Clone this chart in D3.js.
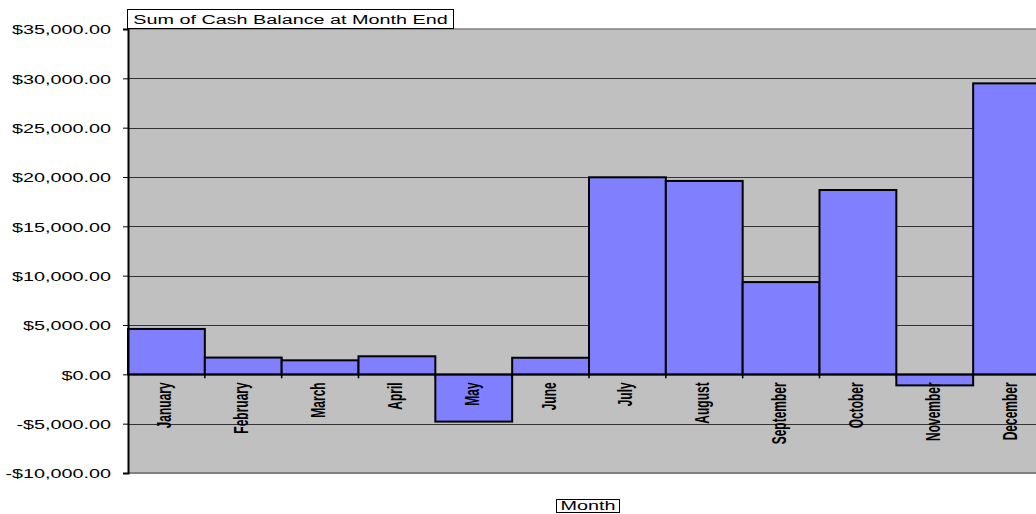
<!DOCTYPE html>
<html>
<head>
<meta charset="utf-8">
<script src="https://cdn.jsdelivr.net/npm/d3@7"></script>
<style>
  body { margin: 0; background: #fff; }
  svg { display: block; font-family: "Liberation Sans", Arial, sans-serif; }
</style>
</head>
<body>
<svg id="chart" width="1036" height="514"></svg>
<script>
var months = ["January", "February", "March", "April", "May", "June",
    "July", "August", "September", "October", "November", "December"];
var balances = [4600, 1700, 1420, 1830, -4790, 1680, 19970, 19600, 9350, 18680, -1120, 29490];
var yTicks = [-10000, -5000, 0, 5000, 10000, 15000, 20000, 25000, 30000, 35000];

// the old sheet stretches its text sideways
const STRETCH = 1.65;

var svg = d3.select("#chart");
var plotLeft = 128, plotTop = 29, plotBottom = 473, plotRight = 1050;

var x = d3.scaleBand().domain(months).range([plotLeft, plotRight]).padding(0);
var y = d3.scaleLinear().domain([-10000, 35000]).range([plotBottom, plotTop]);

var fmt = function (v) {
    var s = "$" + d3.format(",.2f")(Math.abs(v));
    return v < 0 ? "-" + s : s;
};

// plot background
svg.append("rect")
    .attr("x", plotLeft).attr("y", plotTop)
    .attr("width", plotRight - plotLeft).attr("height", plotBottom - plotTop)
    .attr("fill", "#c0c0c0");

// gridlines
svg.append("g").selectAll("line")
    .data(yTicks.filter(function (d) { return d > -10000 && d < 35000; }))
    .enter().append("line")
    .attr("x1", plotLeft).attr("x2", plotRight)
    .attr("y1", function (d) { return Math.round(y(d)) + 0.5; })
    .attr("y2", function (d) { return Math.round(y(d)) + 0.5; })
    .attr("stroke", "#333").attr("stroke-width", 1);

// top and bottom border
svg.append("line").attr("x1", plotLeft).attr("x2", plotRight)
    .attr("y1", plotTop).attr("y2", plotTop).attr("stroke", "#808080").attr("stroke-width", 1.5);
svg.append("line").attr("x1", plotLeft).attr("x2", plotRight)
    .attr("y1", plotBottom).attr("y2", plotBottom).attr("stroke", "#808080").attr("stroke-width", 2);

// bars
svg.append("g").selectAll("rect")
    .data(balances)
    .enter().append("rect")
    .attr("x", function (d, i) { return x(months[i]); })
    .attr("width", x.bandwidth())
    .attr("y", function (d) { return y(Math.max(0, d)); })
    .attr("height", function (d) { return Math.abs(y(d) - y(0)); })
    .attr("fill", "#8080ff")
    .attr("stroke", "#000").attr("stroke-width", 2);

// category axis on zero line
var xAxis = svg.append("g")
    .attr("transform", "translate(0," + y(0) + ")")
    .call(d3.axisBottom(x).tickSize(0).tickFormat(""));
xAxis.select(".domain").attr("stroke", "#000").attr("stroke-width", 1.5);
xAxis.selectAll(".bnd")
    .data(months.slice(1))
    .enter().append("line")
    .attr("class", "bnd")
    .attr("x1", function (d) { return x(d); })
    .attr("x2", function (d) { return x(d); })
    .attr("y1", 0).attr("y2", 4)
    .attr("stroke", "#000").attr("stroke-width", 1.5);

// month labels
svg.append("g").selectAll("text")
    .data(months)
    .enter().append("text")
    .attr("transform", function (d) {
        return "translate(" + (x(d) + x.bandwidth() / 2 - 2) + "," + (y(0) + 8) + ") rotate(-90) scale(1," + STRETCH + ")";
    })
    .attr("text-anchor", "end")
    .attr("dy", "0.35em")
    .style("font-weight", "bold")
    .style("font-size", "12px")
    .attr("fill", "#000")
    .text(function (d) { return d; });

// value axis
var yAxis = svg.append("g")
    .attr("transform", "translate(" + plotLeft + ",0)")
    .call(d3.axisLeft(y).tickValues(yTicks).tickSize(5).tickFormat(fmt));
yAxis.select(".domain").attr("stroke", "#000").attr("stroke-width", 2);
yAxis.selectAll(".tick line").attr("stroke", "#000");
yAxis.selectAll(".tick text")
    .attr("x", 0)
    .attr("transform", "translate(-17,1) scale(" + STRETCH + ",1)")
    .style("font-family", "'Liberation Sans', Arial, sans-serif")
    .style("font-size", "12px")
    .attr("fill", "#000");

// field buttons
function fieldBox(label, bx, by, w, h, base) {
    var g = svg.append("g");
    g.append("rect").attr("x", bx + 0.5).attr("y", by + 0.5)
        .attr("width", w).attr("height", h)
        .attr("fill", "#fff").attr("stroke", "#000");
    g.append("text")
        .attr("transform", "translate(" + (bx + w / 2 + 0.5) + "," + (by + base) + ") scale(" + STRETCH + ",1)")
        .attr("text-anchor", "middle")
        .style("font-size", "12px")
        .text(label);
}
fieldBox("Sum of Cash Balance at Month End", 127, 9, 326, 19, 15);
fieldBox("Month", 556, 499, 63, 13, 11);
</script>
</body>
</html>
